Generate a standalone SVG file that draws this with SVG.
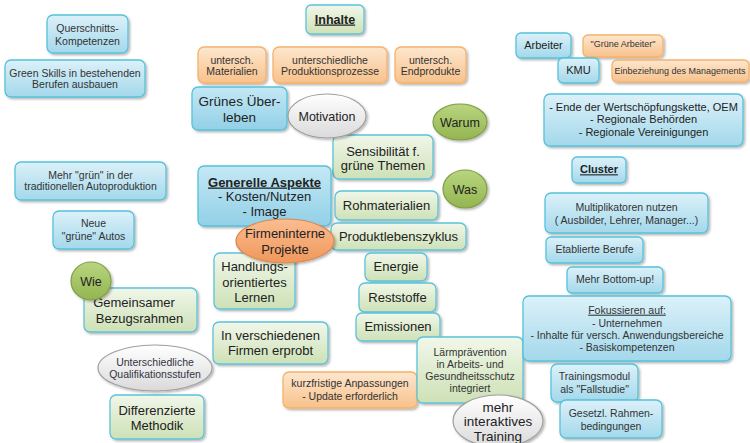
<svg xmlns="http://www.w3.org/2000/svg" width="750" height="443" viewBox="0 0 750 443">
<defs>
<linearGradient id="gb" x1="0" y1="0" x2="0" y2="1"><stop offset="0" stop-color="#dcf1f9"/><stop offset="1" stop-color="#a3d8eb"/></linearGradient>
<linearGradient id="gbs" x1="0" y1="0" x2="0" y2="1"><stop offset="0" stop-color="#c4e8f5"/><stop offset="1" stop-color="#92d0e7"/></linearGradient>
<linearGradient id="gg" x1="0" y1="0" x2="0" y2="1"><stop offset="0" stop-color="#f1f7ea"/><stop offset="1" stop-color="#cde1b6"/></linearGradient>
<linearGradient id="go" x1="0" y1="0" x2="0" y2="1"><stop offset="0" stop-color="#fde7ce"/><stop offset="1" stop-color="#f8c18b"/></linearGradient>
<linearGradient id="ge" x1="0" y1="0" x2="0" y2="1"><stop offset="0" stop-color="#ffffff"/><stop offset="1" stop-color="#dadada"/></linearGradient>
<linearGradient id="geg" x1="0" y1="0" x2="0" y2="1"><stop offset="0" stop-color="#b9d57f"/><stop offset="1" stop-color="#93b550"/></linearGradient>
<linearGradient id="geo" x1="0" y1="0" x2="0" y2="1"><stop offset="0" stop-color="#fbbd90"/><stop offset="1" stop-color="#f0975b"/></linearGradient>
<filter id="sh" x="-10%" y="-10%" width="130%" height="140%"><feDropShadow dx="1.5" dy="1.5" stdDeviation="1" flood-color="#000" flood-opacity="0.3"/></filter>
<style>
.b{fill:url(#gb);stroke:#56c2da;stroke-width:1.3;filter:url(#sh)}
.bs{fill:url(#gbs);stroke:#56c2da;stroke-width:1.3;filter:url(#sh)}
.g{fill:url(#gg);stroke:#5cc3da;stroke-width:1.3;filter:url(#sh)}
.o{fill:url(#go);stroke:#f5b36b;stroke-width:1.3;filter:url(#sh)}
.e{fill:url(#ge);stroke:#a0a0a0;stroke-width:1.2;filter:url(#sh)}
.eg{fill:url(#geg);stroke:#7e9e46;stroke-width:1.2;filter:url(#sh)}
.eo{fill:url(#geo);stroke:#d98a52;stroke-width:1.2;filter:url(#sh)}
text{font-family:"Liberation Sans",Arial,sans-serif;text-anchor:middle;fill:#222}
.t{font-size:13px}
.s{font-size:10.5px;fill:#333}
.h{font-weight:bold;text-decoration:underline}
</style>
</defs>
<g id="connectors"/>
<g id="querschnitt"><rect class="b" x="47" y="15" width="81" height="38" rx="6"/><text class="s" x="87.5" y="32">Querschnitts-</text><text class="s" x="87.5" y="45">Kompetenzen</text></g>
<g id="greenskills"><rect class="b" x="5" y="60" width="140" height="37" rx="6"/><text class="s" x="75" y="76.5">Green Skills in bestehenden</text><text class="s" x="75" y="88">Berufen ausbauen</text></g>
<g id="materialien"><rect class="o" x="198" y="47" width="68" height="36" rx="6"/><text class="s" x="232" y="63.7">untersch.</text><text class="s" x="232" y="75">Materialien</text></g>
<g id="prozesse"><rect class="o" x="273" y="47" width="114" height="36" rx="6"/><text class="s" x="330" y="63.7">unterschiedliche</text><text class="s" x="330" y="75">Produktionsprozesse</text></g>
<g id="endprodukte"><rect class="o" x="395" y="47" width="71" height="36" rx="6"/><text class="s" x="430.5" y="63.7">untersch.</text><text class="s" x="430.5" y="75">Endprodukte</text></g>
<g id="inhalte"><rect class="g" x="306" y="5" width="58" height="29" rx="5"/><text class="t h" x="335" y="23.5" style="font-size:12.5px">Inhalte</text></g>
<g id="ueberleben"><rect class="bs" x="192" y="87" width="95" height="43" rx="6"/><text class="t" x="239.5" y="105.5" style="font-size:13.5px">Grünes Über-</text><text class="t" x="239.5" y="121.5" style="font-size:13.5px">leben</text></g>
<g id="sensibilitaet"><rect class="g" x="333" y="135" width="100" height="44" rx="6"/><text class="t" x="383" y="156">Sensibilität f.</text><text class="t" x="383" y="169.5">grüne Themen</text></g>
<g id="generell"><rect class="bs" x="198" y="166" width="133" height="60" rx="6"/><text class="t h" x="264.5" y="186.5">Generelle Aspekte</text><text class="t" x="264.5" y="201">- Kosten/Nutzen</text><text class="t" x="264.5" y="216">- Image</text></g>
<g id="rohmaterialien"><rect class="g" x="335" y="191" width="103" height="29" rx="6"/><text class="t" x="386.5" y="210">Rohmaterialien</text></g>
<g id="produktleben"><rect class="g" x="331" y="223" width="135" height="27" rx="6"/><text class="t" x="398.5" y="240.5">Produktlebenszyklus</text></g>
<g id="energie"><rect class="g" x="365" y="253" width="62" height="28" rx="6"/><text class="t" x="396" y="270.5">Energie</text></g>
<g id="reststoffe"><rect class="g" x="359" y="283" width="77" height="29" rx="6"/><text class="t" x="397.5" y="302">Reststoffe</text></g>
<g id="emissionen"><rect class="g" x="356" y="313" width="84" height="28" rx="6"/><text class="t" x="398" y="331">Emissionen</text></g>
<g id="handlung"><rect class="g" x="214" y="253" width="81" height="56" rx="6"/><text class="t" x="254.5" y="271">Handlungs-</text><text class="t" x="254.5" y="286.5">orientiertes</text><text class="t" x="254.5" y="302">Lernen</text></g>
<g id="erprobt"><rect class="g" x="213" y="322" width="115" height="42" rx="6"/><text class="t" x="270.5" y="339.5">In verschiedenen</text><text class="t" x="270.5" y="354.5">Firmen erprobt</text></g>
<g id="kurzfristig"><rect class="o" x="283" y="372" width="134" height="36" rx="6"/><text class="s" x="350" y="386.7">kurzfristige Anpassungen</text><text class="s" x="350" y="399.7">- Update erforderlich</text></g>
<g id="laerm"><rect class="g" x="417" y="337" width="106" height="66" rx="6"/><text class="s" x="470" y="355.5">Lärmprävention</text><text class="s" x="470" y="367.5">in Arbeits- und</text><text class="s" x="470" y="379.5">Gesundheitsschutz</text><text class="s" x="470" y="391.5">integriert</text></g>
<g id="mehrgruen"><rect class="b" x="15" y="162" width="151" height="38" rx="6"/><text class="s" x="90.5" y="178.7">Mehr "grün" in der</text><text class="s" x="90.5" y="190.4">traditionellen Autoproduktion</text></g>
<g id="neueautos"><rect class="b" x="53" y="211" width="81" height="38" rx="6"/><text class="s" x="93.5" y="227">Neue</text><text class="s" x="93.5" y="239.7">"grüne" Autos</text></g>
<g id="bezugsrahmen"><rect class="g" x="84" y="288" width="113" height="44" rx="6"/><text class="t" x="134" y="307">Gemeinsamer</text><text class="t" x="139.5" y="322.7">Bezugsrahmen</text></g>
<g id="methodik"><rect class="g" x="110" y="395" width="94" height="44" rx="6"/><text class="t" x="157" y="414.5">Differenzierte</text><text class="t" x="157" y="429.5">Methodik</text></g>
<g id="arbeiter"><rect class="b" x="516" y="33" width="55" height="25" rx="5"/><text class="t" x="543.5" y="48.5" style="font-size:11px">Arbeiter</text></g>
<g id="gruenearbeiter"><rect class="o" x="583" y="35" width="80" height="22" rx="5"/><text class="s" x="623" y="47" style="font-size:9px">"Grüne Arbeiter"</text></g>
<g id="kmu"><rect class="b" x="558" y="58" width="41" height="25" rx="5"/><text class="t" x="578.5" y="74" style="font-size:11px">KMU</text></g>
<g id="management"><rect class="o" x="612" y="60" width="137" height="22" rx="5"/><text class="s" x="680" y="73.5" style="font-size:9px">Einbeziehung des Managements</text></g>
<g id="wertschoepfung"><rect class="b" x="544" y="94" width="199" height="52" rx="6"/><text class="t" x="643.5" y="111" style="font-size:11px">- Ende der Wertschöpfungskette, OEM</text><text class="t" x="643.5" y="123" style="font-size:11px">- Regionale Behörden</text><text class="t" x="643.5" y="135.5" style="font-size:11px">- Regionale Vereinigungen</text></g>
<g id="cluster"><rect class="b" x="572" y="157" width="54" height="26" rx="5"/><text class="t h" x="599" y="173.3" style="font-size:11px">Cluster</text></g>
<g id="multiplikatoren"><rect class="b" x="545" y="193" width="163" height="40" rx="6"/><text class="s" x="626.5" y="211">Multiplikatoren nutzen</text><text class="s" x="626.5" y="223.7">( Ausbilder, Lehrer, Manager...)</text></g>
<g id="etablierte"><rect class="b" x="546" y="237" width="97" height="26" rx="5"/><text class="s" x="594.5" y="253">Etablierte Berufe</text></g>
<g id="bottomup"><rect class="b" x="567" y="267" width="96" height="26" rx="5"/><text class="s" x="615" y="282.7">Mehr Bottom-up!</text></g>
<g id="fokussieren"><rect class="b" x="523" y="296" width="208" height="65" rx="6"/><text class="s" x="627" y="313.7" style="text-decoration:underline">Fokussieren auf:</text><text class="s" x="627" y="326.7">- Unternehmen</text><text class="s" x="627" y="338.7">- Inhalte für versch. Anwendungsbereiche</text><text class="s" x="627" y="350.5">- Basiskompetenzen</text></g>
<g id="trainingsmodul"><rect class="b" x="551" y="364" width="87" height="38" rx="6"/><text class="s" x="594.5" y="379.7">Trainingsmodul</text><text class="s" x="594.5" y="393">als "Fallstudie"</text></g>
<g id="rahmen"><rect class="b" x="560" y="400" width="102" height="38" rx="6"/><text class="s" x="611" y="417">Gesetzl. Rahmen-</text><text class="s" x="611" y="429.7">bedingungen</text></g>
<g id="motivation"><ellipse class="e" cx="327" cy="116" rx="39" ry="22"/><text class="t" x="327" y="120.5" style="font-size:12.5px">Motivation</text></g>
<g id="warum"><ellipse class="eg" cx="460" cy="122" rx="27" ry="18"/><text class="t" x="460" y="126.5" style="font-size:12.5px">Warum</text></g>
<g id="was"><ellipse class="eg" cx="465" cy="189" rx="22" ry="19"/><text class="t" x="465" y="193.5" style="font-size:12.5px">Was</text></g>
<g id="firmenintern"><ellipse class="eo" cx="285" cy="241" rx="49" ry="22"/><text class="t" x="285" y="237.8">Firmeninterne</text><text class="t" x="285" y="253.5">Projekte</text></g>
<g id="wie"><ellipse class="eg" cx="91" cy="281" rx="20" ry="19"/><text class="t" x="91" y="285.5" style="font-size:12.5px">Wie</text></g>
<g id="qualifikation"><ellipse class="e" cx="155" cy="368" rx="57" ry="23"/><text class="s" x="155" y="365.5" style="fill:#334">Unterschiedliche</text><text class="s" x="155" y="377.5" style="fill:#334">Qualifikationsstufen</text></g>
<g id="interaktiv"><ellipse class="e" cx="498" cy="421" rx="45" ry="26"/><text class="t" x="498" y="411.5" style="font-size:13.5px">mehr</text><text class="t" x="498" y="425.5" style="font-size:13.5px">interaktives</text><text class="t" x="498" y="440.5" style="font-size:13.5px">Training</text></g>
</svg>
